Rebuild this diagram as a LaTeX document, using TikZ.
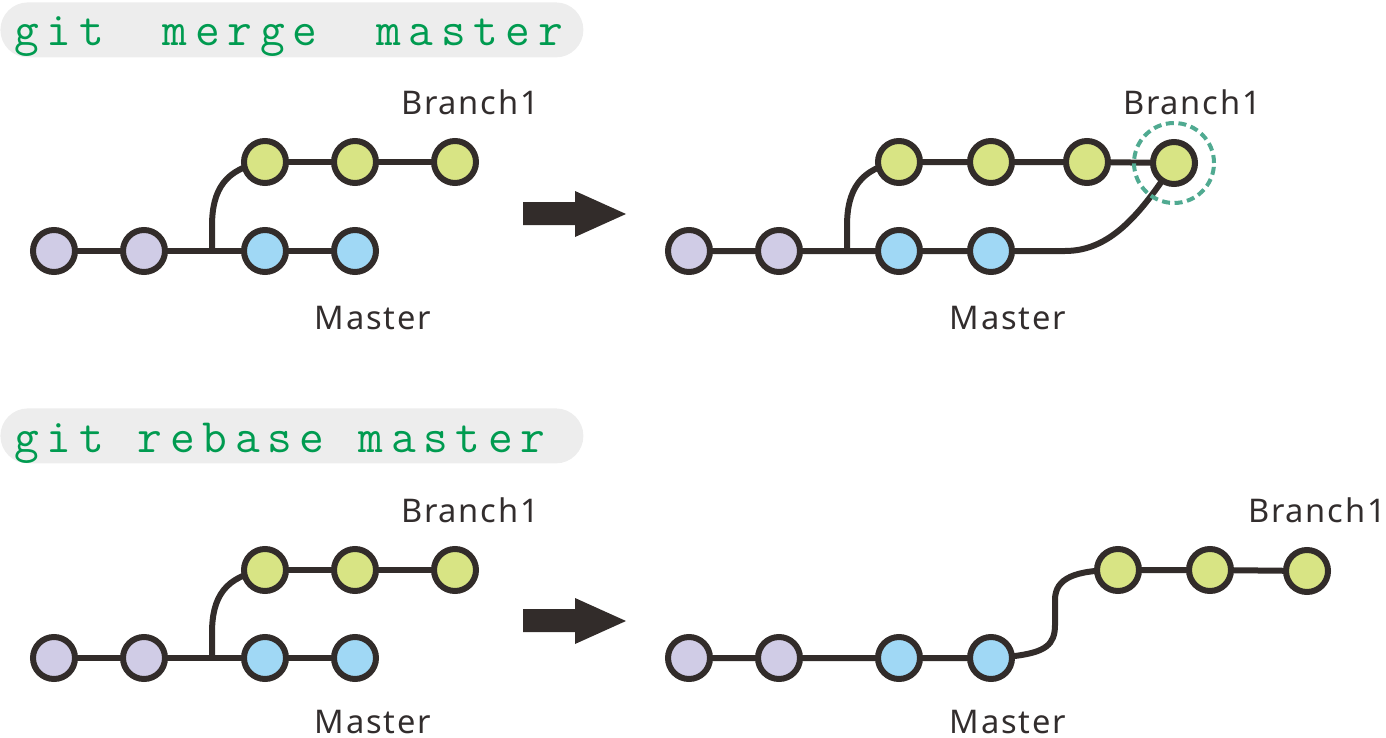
\documentclass[tikz,border=0pt]{standalone}
\usepackage{fontspec}
\newfontfamily\lblfont[LetterSpace=5.5]{Noto Sans}
\newfontfamily\cmdfont[LetterSpace=16]{Latin Modern Mono}
\usetikzlibrary{backgrounds}
\definecolor{linec}{RGB}{50,44,42}
\definecolor{purp}{RGB}{208,204,230}
\definecolor{yg}{RGB}{216,228,132}
\definecolor{lb}{RGB}{160,216,245}
\definecolor{hdrgray}{RGB}{237,237,237}
\definecolor{gitgreen}{RGB}{0,155,80}
\definecolor{tealc}{RGB}{80,170,145}
\definecolor{txtc}{RGB}{50,45,45}
\begin{document}
\begin{tikzpicture}[x=0.5pt,y=-0.5pt,
  commit/.style={circle, draw=linec, line width=3pt, minimum size=21pt, inner sep=0pt},
  pc/.style={commit, fill=purp},
  gc/.style={commit, fill=yg},
  bc/.style={commit, fill=lb},
  edge/.style={draw=linec, line width=3pt},
  lbl/.style={font=\lblfont\fontsize{16.3}{18}\selectfont, text=txtc, inner sep=0pt, anchor=base},
  pill/.style={fill=hdrgray, rounded corners=13.75pt, minimum width=291.5pt, minimum height=27.5pt, inner sep=0pt, anchor=north west},
  cmd/.style={font=\cmdfont\fontsize{24}{26}\selectfont, text=gitgreen, inner sep=0pt, anchor=base west},
  bigarrow/.style={fill=linec}]
\useasboundingbox (0,0) rectangle (1386,738);

% ---------- headers ----------
\node[pill] (h1) at (0,2) {};
\node[cmd] (t1) at (14,46) {git\hspace{29.5pt}merge\hspace{29.5pt}master};
\node[pill] (h2) at (0,408) {};
\node[cmd] (t2) at (14,452) {git\hspace{17pt}rebase\hspace{17pt}master};

% ---------- top left ----------
\node[pc] (a1) at (54,251) {};
\node[pc] (a2) at (144,251) {};
\node[bc] (a3) at (265,251) {};
\node[bc] (a4) at (355,251) {};
\node[gc] (a5) at (265,162) {};
\node[gc] (a6) at (355,162) {};
\node[gc] (a7) at (455,162) {};
\coordinate (af) at (212,251);
\node[lbl] (la1) at (470,115) {Branch1};
\node[lbl] (la2) at (373,329) {Master};

% ---------- top right ----------
\node[pc] (b1) at (689,251) {};
\node[pc] (b2) at (779,251) {};
\node[bc] (b3) at (899,251) {};
\node[bc] (b4) at (991,251) {};
\node[gc] (b5) at (899,162) {};
\node[gc] (b6) at (991,162) {};
\node[gc] (b7) at (1087,162) {};
\node[gc] (b8) at (1174,163) {};
\coordinate (bf) at (847,251);
\coordinate (bm) at (1065,251);
\draw[tealc, line width=2pt, dash pattern=on 4pt off 2.3pt] (b8.center) circle (20pt);
\node[lbl] (lb1) at (1192,115) {Branch1};
\node[lbl] (lb2) at (1008,329) {Master};

% ---------- bottom left ----------
\node[pc] (c1) at (54,658) {};
\node[pc] (c2) at (144,658) {};
\node[bc] (c3) at (265,658) {};
\node[bc] (c4) at (355,658) {};
\node[gc] (c5) at (265,570) {};
\node[gc] (c6) at (355,570) {};
\node[gc] (c7) at (455,570) {};
\coordinate (cf) at (212,658);
\node[lbl] (lc1) at (470,522) {Branch1};
\node[lbl] (lc2) at (373,733) {Master};

% ---------- bottom right ----------
\node[pc] (d1) at (689,658) {};
\node[pc] (d2) at (779,658) {};
\node[bc] (d3) at (899,658) {};
\node[bc] (d4) at (991,658) {};
\node[gc] (d5) at (1118,570) {};
\node[gc] (d6) at (1210,570) {};
\node[gc] (d7) at (1307,571) {};
\node[lbl] (ld1) at (1317,522) {Branch1};
\node[lbl] (ld2) at (1008,733) {Master};

% ---------- arrows ----------
\fill[bigarrow] (523,202) -- (575,202) -- (575,191) -- (626,214) -- (575,237) -- (575,225) -- (523,225) -- cycle;
\fill[bigarrow] (523,609) -- (575,609) -- (575,598) -- (626,621) -- (575,644) -- (575,632) -- (523,632) -- cycle;

% ---------- edges ----------
\begin{scope}[on background layer]
\draw[edge] (a1.center) -- (a2.center) -- (a3.center) -- (a4.center);
\draw[edge] (a5.center) -- (a6.center) -- (a7.center);
\draw[edge] (af) -- ++(0,-25) .. controls (212,190) and (225,168) .. (a5.center);

\draw[edge] (b1.center) -- (b2.center) -- (b3.center) -- (b4.center) -- (bm) .. controls (1110,251) and (1140,215) .. (b8.center);
\draw[edge] (b5.center) -- (b6.center) -- (b7.center) -- (b8.center);
\draw[edge] (bf) -- ++(0,-25) .. controls (847,190) and (860,168) .. (b5.center);

\draw[edge] (c1.center) -- (c2.center) -- (c3.center) -- (c4.center);
\draw[edge] (c5.center) -- (c6.center) -- (c7.center);
\draw[edge] (cf) -- ++(0,-25) .. controls (212,597) and (225,576) .. (c5.center);

\draw[edge] (d1.center) -- (d2.center) -- (d3.center) -- (d4.center) -- (1015,656) .. controls (1045,652) and (1055,645) .. (1055,625) -- (1055,600) .. controls (1055,578) and (1075,570) .. (d5.center);
\draw[edge] (d5.center) -- (d6.center) -- (d7.center);
\end{scope}
\end{tikzpicture}
\end{document}
